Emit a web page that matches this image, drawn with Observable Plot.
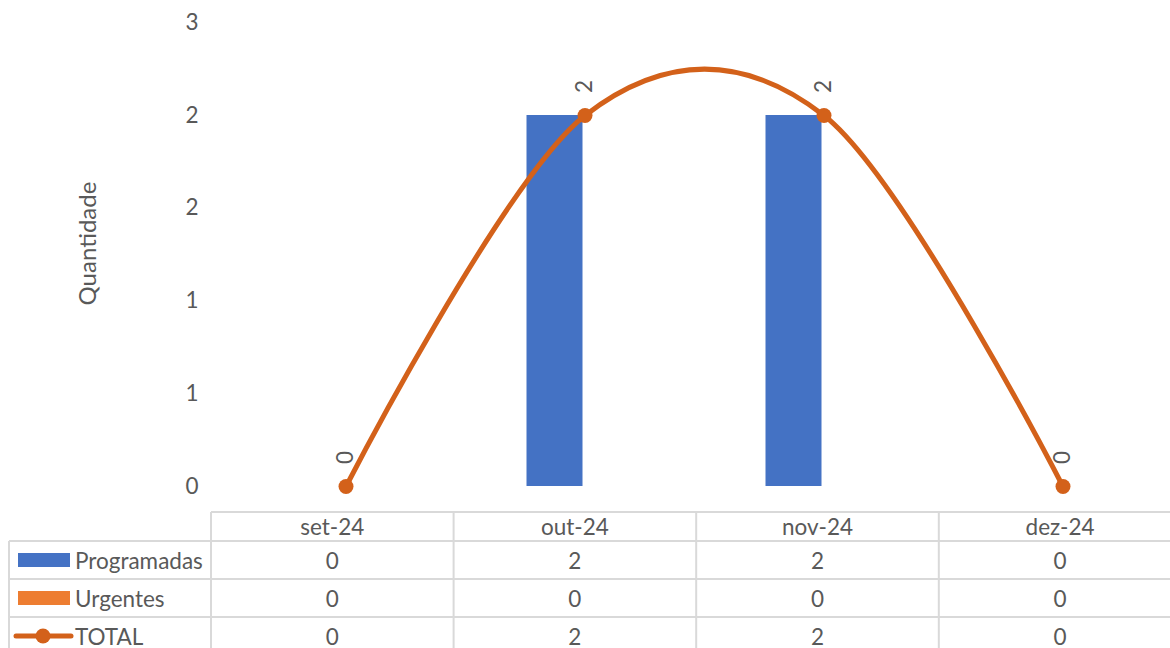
<!DOCTYPE html>
<html>
<head>
<meta charset="utf-8">
<script src="https://cdn.jsdelivr.net/npm/d3@7"></script>
<script src="https://cdn.jsdelivr.net/npm/@observablehq/plot@0.6"></script>
<style>
  html, body { margin: 0; padding: 0; background: #fff; overflow: hidden; }
  #chart { position: relative; width: 1170px; height: 648px; overflow: hidden; }
</style>
</head>
<body>
<div id="chart"></div>
<script>
// ---- data ----
const months = ["set-24", "out-24", "nov-24", "dez-24"];
const programadas = [0, 2, 2, 0];
const urgentes = [0, 0, 0, 0];
const total = [0, 2, 2, 0];
const yTicks = [0, 0.5, 1, 1.5, 2, 2.5];
const seriesNames = ["Programadas", "Urgentes", "TOTAL"];
const yLabel = "Quantidade";

// ---- styles ----
const FONT = "Lato, 'Open Sans', sans-serif";
const FS = 22.5;
const TEXT = "#595959";
const BLUE = "#4472C4";
const ORANGE = "#ED7D31";
const LINE = "#D3611A";
const GRID = "#D9D9D9";

const bars = [];
months.forEach((m, i) => {
  bars.push({month: m, serie: "Programadas", value: programadas[i]});
  bars.push({month: m, serie: "Urgentes", value: urgentes[i]});
});
const totals = months.map((m, i) => ({month: m, value: total[i]}));

const plot = Plot.plot({
  width: 1170,
  height: 648,
  marginLeft: 226,
  marginRight: -12,
  marginTop: 0,
  marginBottom: 162,
  style: {fontFamily: FONT, fontSize: FS + "px", color: TEXT, background: "transparent", overflow: "hidden"},
  x: {type: "band", domain: months, range: [226, 1182], padding: 0, axis: null},
  y: {domain: [0, 2.5], range: [486, 22.25], axis: null},
  marks: [
    Plot.axisY({ticks: yTicks, tickFormat: d => String(Math.round(d)), tickSize: 0, tickPadding: 28, label: null, fill: TEXT, fontSize: FS}),
    Plot.ruleY([0], {x1: months[0], stroke: GRID, strokeWidth: 2}),
    Plot.barY(bars.filter(d => d.serie === "Programadas"), {x: "month", y: "value", fill: BLUE, insetLeft: 61.5, insetRight: 121.5}),
    Plot.barY(bars.filter(d => d.serie === "Urgentes"), {x: "month", y: "value", fill: ORANGE, insetLeft: 117.5, insetRight: 65.5}),
    Plot.line(totals, {x: "month", y: "value", stroke: LINE, strokeWidth: 5, curve: "cardinal", tension: 0}),
    Plot.dot(totals, {x: "month", y: "value", r: 7.5, fill: LINE, stroke: "none"}),
    Plot.text(totals, {x: "month", y: "value", text: d => String(d.value), rotate: -90, dy: -29, fill: TEXT, fontSize: FS}),
    Plot.text([yLabel], {frameAnchor: "left", textAnchor: "middle", lineAnchor: "middle", dx: -138, rotate: -90, fill: TEXT, fontSize: 24})
  ]
});

document.getElementById("chart").appendChild(plot);

// ---- data table below the chart ----
const svg = d3.select(plot);
const tbl = svg.append("g");
const tLeft = 211, colW = 242.6, legendLeft = 9;
const rowTops = [512, 541, 579, 617, 655];
const right = tLeft + colW * months.length;

// horizontal lines
rowTops.forEach((y, k) => {
  tbl.append("line").attr("x1", k === 0 ? tLeft : legendLeft).attr("x2", right)
    .attr("y1", y).attr("y2", y).attr("stroke", GRID).attr("stroke-width", 2);
});
// vertical lines
tbl.append("line").attr("x1", legendLeft).attr("x2", legendLeft).attr("y1", rowTops[1]).attr("y2", rowTops[4])
  .attr("stroke", GRID).attr("stroke-width", 2);
for (let c = 0; c <= months.length; c++) {
  const x = tLeft + c * colW;
  tbl.append("line").attr("x1", x).attr("x2", x).attr("y1", rowTops[0]).attr("y2", rowTops[4])
    .attr("stroke", GRID).attr("stroke-width", 2);
}
const txt = (x, y, s, anchor = "middle") => tbl.append("text")
  .attr("x", x).attr("y", y).attr("text-anchor", anchor).attr("dominant-baseline", "central")
  .attr("fill", TEXT).attr("font-family", FONT).attr("font-size", FS).text(s);

// header
months.forEach((m, i) => txt(tLeft + colW * (i + 0.5), (rowTops[0] + rowTops[1]) / 2, m));
// rows
const rowsVals = [programadas, urgentes, total];
rowsVals.forEach((vals, r) => {
  const cy = (rowTops[r + 1] + rowTops[r + 2]) / 2;
  vals.forEach((v, i) => txt(tLeft + colW * (i + 0.5), cy, String(v)));
  txt(75, cy, seriesNames[r], "start");
});
// legend keys
const cy0 = (rowTops[1] + rowTops[2]) / 2, cy1 = (rowTops[2] + rowTops[3]) / 2, cy2 = (rowTops[3] + rowTops[4]) / 2;
tbl.append("rect").attr("x", 18).attr("y", cy0 - 7).attr("width", 52).attr("height", 14).attr("fill", BLUE);
tbl.append("rect").attr("x", 18).attr("y", cy1 - 7).attr("width", 52).attr("height", 14).attr("fill", ORANGE);
tbl.append("line").attr("x1", 16).attr("x2", 71).attr("y1", cy2).attr("y2", cy2).attr("stroke", LINE).attr("stroke-width", 5).attr("stroke-linecap", "round");
tbl.append("circle").attr("cx", 43).attr("cy", cy2).attr("r", 7.5).attr("fill", LINE);
</script>
</body>
</html>
